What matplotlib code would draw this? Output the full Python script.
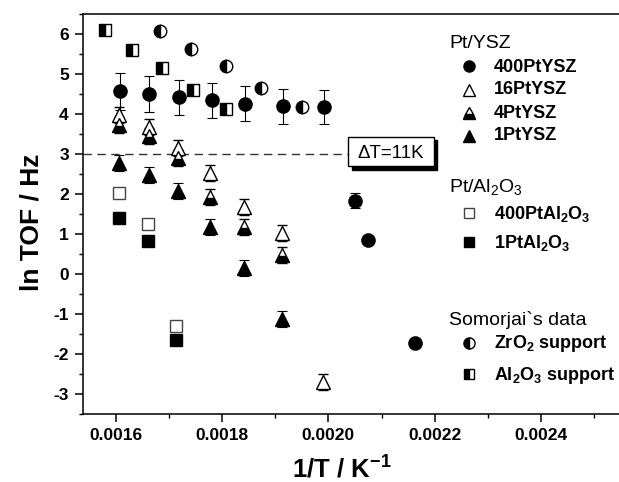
import matplotlib
matplotlib.use("Agg")
import matplotlib.pyplot as plt
from matplotlib.patches import Rectangle
from matplotlib.ticker import MultipleLocator, FormatStrFormatter

plt.rcParams['font.family'] = ['Liberation Sans', 'DejaVu Sans']
plt.rcParams['mathtext.fontset'] = 'custom'
plt.rcParams['mathtext.rm'] = 'Liberation Sans'
plt.rcParams['mathtext.bf'] = 'Liberation Sans:bold'
plt.rcParams['axes.unicode_minus'] = False

# data
x_400ysz = [0.001608, 0.001663, 0.001720, 0.001782, 0.001844, 0.001915, 0.001991, 0.002050, 0.002075, 0.002163]
y_400ysz = [4.57, 4.50, 4.42, 4.34, 4.26, 4.19, 4.18, 1.84, 0.86, -1.71]
e_400ysz = [0.46, 0.45, 0.44, 0.44, 0.44, 0.43, 0.43, 0.19, 0.08, 0.08]

x_ysz = [0.001607, 0.001662, 0.001717, 0.001778, 0.001842, 0.001913, 0.001989]
y_16ysz = [3.98, 3.68, 3.15, 2.53, 1.69, 1.03, -2.69]
y_4ysz = [3.73, 3.44, 2.90, 1.94, 1.18, 0.47]
y_1ysz = [2.78, 2.48, 2.07, 1.18, 0.15, -1.12]
e_tri = 0.2

x_al = [0.001607, 0.001661, 0.001714]
y_400al = [2.03, 1.26, -1.29]
e_400al = [0.0, 0.1, 0.1]
y_1al = [1.40, 0.82, -1.64]

x_zro2 = [0.001683, 0.001741, 0.001807, 0.001874, 0.001950]
y_zro2 = [6.08, 5.63, 5.21, 4.65, 4.18]
x_alsup = [0.001579, 0.001630, 0.001687, 0.001746, 0.001808]
y_alsup = [6.09, 5.59, 5.15, 4.60, 4.13]

fig = plt.figure(figsize=(6.19, 4.82), dpi=100)
ax = fig.add_axes([0.1336, 0.1405, 0.878, 0.8305])

ekw = dict(ecolor='black', elinewidth=0.8, capsize=3.5, capthick=0.8, linestyle='none')
ax.errorbar(x_400ysz, y_400ysz, yerr=e_400ysz, marker='o', ms=9.5, mfc='black', mec='black', **ekw)
ax.errorbar(x_ysz, y_16ysz, yerr=e_tri, marker='^', ms=10, mfc='white', mec='black', mew=1, **ekw)
ax.errorbar(x_ysz[:6], y_4ysz, yerr=e_tri, marker='^', ms=10, fillstyle='bottom', mfc='black',
            markerfacecoloralt='white', mec='black', mew=1, **ekw)
ax.errorbar(x_ysz[:6], y_1ysz, yerr=e_tri, marker='^', ms=10, mfc='black', mec='black', **ekw)
ax.errorbar(x_al, y_400al, yerr=e_400al, marker='s', ms=8, mfc='white', mec='#444444', mew=1,
            ecolor='#444444', elinewidth=0.8, capsize=3, capthick=0.8, linestyle='none')
ax.plot(x_al, y_1al, linestyle='none', marker='s', ms=8.5, mfc='black', mec='black')
ax.plot(x_zro2, y_zro2, linestyle='none', marker='o', ms=9, fillstyle='left', mfc='black',
        markerfacecoloralt='white', mec='black', mew=1)
ax.plot(x_alsup, y_alsup, linestyle='none', marker='s', ms=8, fillstyle='left', mfc='black',
        markerfacecoloralt='white', mec='black', mew=1)

ax.axhline(3, xmin=0, xmax=0.488, color='#333333', lw=1, dashes=(6, 4))

ax.set_xlim(0.001538, 0.00256)
ax.set_ylim(-3.5, 6.5)
ax.xaxis.set_major_locator(MultipleLocator(0.0002))
ax.xaxis.set_minor_locator(MultipleLocator(0.0001))
ax.xaxis.set_major_formatter(FormatStrFormatter('%.4f'))
ax.yaxis.set_major_locator(MultipleLocator(1))
ax.yaxis.set_minor_locator(MultipleLocator(0.5))
ax.tick_params(which='major', direction='out', length=6, width=1.1, labelsize=12.5, pad=4)
ax.tick_params(which='minor', direction='out', length=3, width=1.0)
for lab in ax.get_xticklabels() + ax.get_yticklabels():
    lab.set_fontweight('bold')
for sp in ax.spines.values():
    sp.set_linewidth(1.1)

ax.set_ylabel('ln TOF / Hz', fontsize=19, fontweight='bold')
ax.yaxis.set_label_coords(-0.072, 0.48)
ax.set_xlabel(r'1/T / K$^{\mathbf{-1}}$', fontsize=18.5, fontweight='bold')
ax.xaxis.set_label_coords(0.477, -0.1)


def fp(px, py):
    return px / 619, 1 - py / 482


# delta T box with shadow
bx, by = fp(348.3, 166)
bw, bh = 86 / 619, 29.5 / 482
sx, sy = fp(351.5, 169.5)
fig.add_artist(Rectangle((sx, sy), bw, bh, transform=fig.transFigure, fc='black', ec='black', zorder=3))
fig.add_artist(Rectangle((bx, by), bw, bh, transform=fig.transFigure, fc='white', ec='black', lw=1, zorder=4))
fig.text(*fp(391, 153), '\u0394T=11K', fontsize=13.5, ha='center', va='center', zorder=5)

# legend
mx, tx = 469.3, 494
lab_kw = dict(fontsize=13, fontweight='bold', va='center', ha='left')
head_kw = dict(fontsize=14, va='center', ha='left')


def leg_marker(py, **kw):
    fig.add_artist(plt.Line2D([mx / 619], [1 - py / 482], transform=fig.transFigure,
                              linestyle='none', color='black', **kw))


fig.text(*fp(449, 44), 'Pt/YSZ', **head_kw)
leg_marker(66, marker='o', ms=8, mfc='black', mec='black')
fig.text(*fp(tx, 67), '400PtYSZ', **lab_kw)
leg_marker(90, marker='^', ms=8.5, mfc='white', mec='black', mew=1)
fig.text(*fp(tx, 90), '16PtYSZ', **lab_kw)
leg_marker(113, marker='^', ms=8.5, fillstyle='bottom', mfc='black', markerfacecoloralt='white', mec='black', mew=1)
fig.text(*fp(tx, 113), '4PtYSZ', **lab_kw)
leg_marker(136, marker='^', ms=8.5, mfc='black', mec='black')
fig.text(*fp(tx, 136), '1PtYSZ', **lab_kw)

fig.text(*fp(449, 188), r'Pt/Al$_2$O$_3$', **head_kw)
leg_marker(213, marker='s', ms=7, mfc='white', mec='#444444', mew=1)
fig.text(*fp(tx, 214), r'400PtAl$_\mathbf{2}$O$_\mathbf{3}$', **lab_kw)
leg_marker(242, marker='s', ms=7, mfc='black', mec='black')
fig.text(*fp(tx, 243), r'1PtAl$_\mathbf{2}$O$_\mathbf{3}$', **lab_kw)

fig.text(*fp(449, 320), 'Somorjai`s data', **head_kw)
leg_marker(343, marker='o', ms=8, fillstyle='left', mfc='black', markerfacecoloralt='white', mec='black', mew=1)
fig.text(*fp(tx, 344), r'ZrO$_\mathbf{2}$ support', **lab_kw)
leg_marker(374, marker='s', ms=7, fillstyle='left', mfc='black', markerfacecoloralt='white', mec='black', mew=1)
fig.text(*fp(tx, 375), r'Al$_\mathbf{2}$O$_\mathbf{3}$ support', **lab_kw)

fig.savefig('out.png', dpi=100)
